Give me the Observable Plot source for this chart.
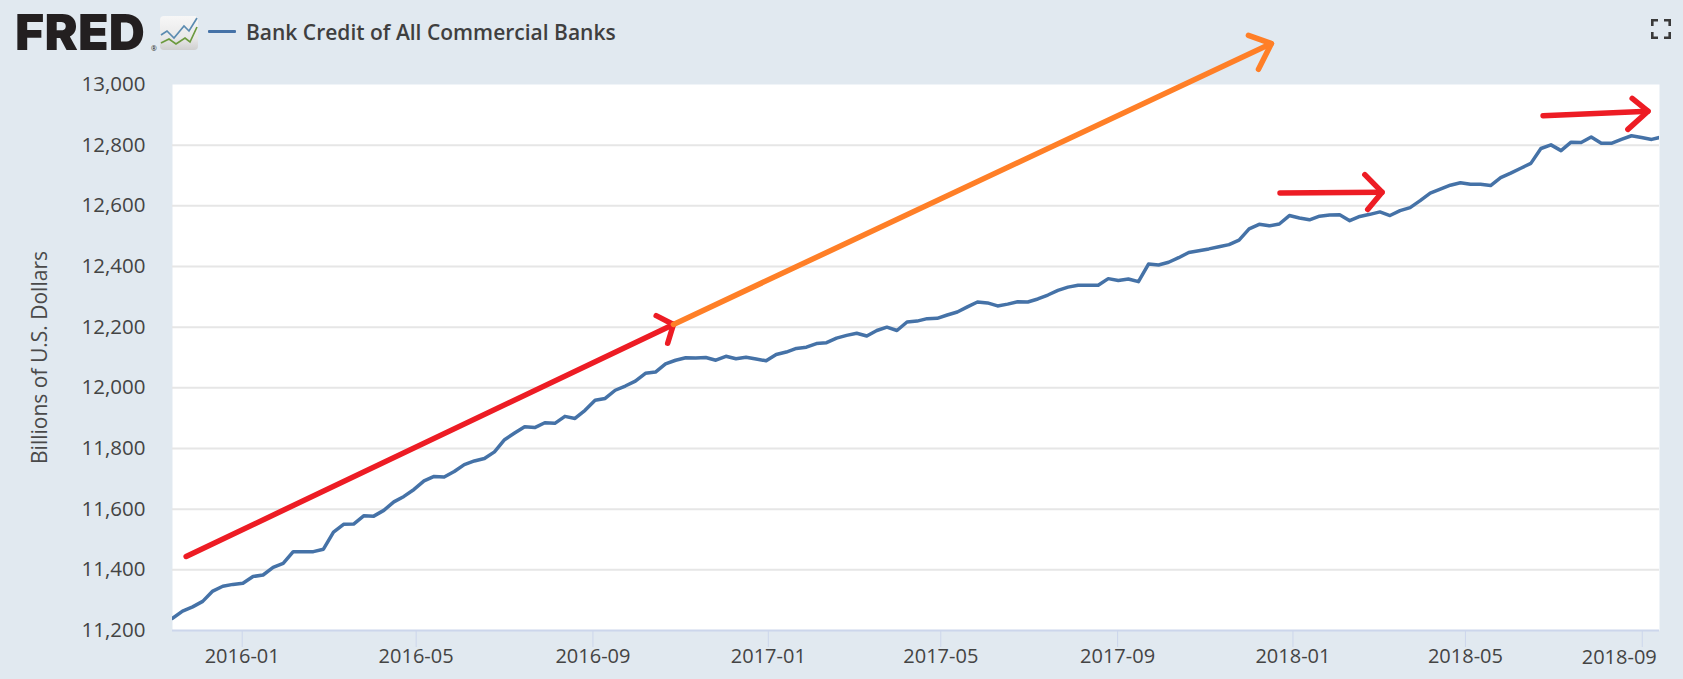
<!DOCTYPE html>
<html>
<head>
<meta charset="utf-8">
<script src="https://cdn.jsdelivr.net/npm/d3@7"></script>
<script src="https://cdn.jsdelivr.net/npm/@observablehq/plot@0.6"></script>
<style>
html,body{margin:0;padding:0;background:#e1e9f0;}
body{position:relative;width:1683px;height:679px;overflow:hidden;font-family:"Open Sans",sans-serif;}
#chart{position:absolute;left:0;top:0;}
#logo{position:absolute;left:15px;top:2px;font:900 50px Inter,sans-serif;letter-spacing:0.2px;color:#231f20;line-height:60px;}
#reg{position:absolute;left:151px;top:44px;font:7px "Open Sans",sans-serif;color:#231f20;}
#icon{position:absolute;left:160px;top:16px;}
#swatch{position:absolute;left:208px;top:30px;width:28px;height:3px;background:#4572a7;border-radius:1px;}
#legend{position:absolute;left:246px;top:17px;font:600 21px "Open Sans",sans-serif;color:#3f3f3f;line-height:30px;white-space:nowrap;}
#full{position:absolute;left:1651px;top:19px;}
</style>
</head>
<body>
<div id="chart"></div>
<div id="logo">FRED</div>
<div id="reg">®</div>
<svg id="icon" width="39" height="34" viewBox="0 0 39 34">
  <defs><linearGradient id="g" x1="0" y1="0" x2="0" y2="1"><stop offset="0" stop-color="#f7f7f7"/><stop offset="0.65" stop-color="#e8e8e8"/><stop offset="1" stop-color="#cfcfcf"/></linearGradient></defs>
  <rect x="0" y="0" width="38" height="34" rx="4" fill="url(#g)"/>
  <polyline points="1,19 7,15 14,22 24,10 29,15 37,2" fill="none" stroke="#5b8bb0" stroke-width="1.7"/>
  <polyline points="1,27 9,23 16,28 25,22 30,26 37,11" fill="none" stroke="#6c9a3e" stroke-width="1.7"/>
</svg>
<div id="swatch"></div>
<div id="legend">Bank Credit of All Commercial Banks</div>
<svg id="full" width="20" height="20" viewBox="0 0 20 20" fill="none" stroke="#3a3a3a" stroke-width="2.6">
  <path d="M1.3 7V1.3H7M13 1.3H18.7V7M1.3 13V18.7H7M13 18.7H18.7V13"/>
</svg>
<script>
const startDate = "2015-11-13T12:00Z";
const endDate = "2018-09-13T00:00Z";
const bankCredit = [
11240,11264,11278,11296,11330,11346,11352,11356,11378,11383,11408,11421,11460,11460,11460,11468,
11524,11550,11551,11578,11577,11596,11624,11642,11665,11693,11708,11706,11724,11747,11759,
11767,11789,11829,11851,11872,11869,11885,11883,11906,11899,11926,11959,11965,11992,12006,12022,
12048,12052,12079,12091,12099,12098,12100,12091,12104,12096,12101,12095,12089,12110,
12118,12130,12134,12146,12149,12164,12173,12180,12171,12189,12200,12189,12217,12220,12228,12229,
12240,12250,12267,12283,12280,12270,12276,12284,12283,12293,12306,12321,12332,
12338,12338,12338,12360,12354,12359,12350,12408,12405,12414,12429,12446,12452,12458,12465,12472,
12487,12524,12539,12534,12540,12568,12560,12554,12566,12570,12571,12551,12565,12572,
12580,12568,12584,12594,12617,12642,12655,12668,12676,12671,12671,12667,12693,12708,12724,12740,
12789,12801,12782,12810,12809,12827,12806,12806,12819,12831,12825,12819,12827
];
const yTicks = [11200,11400,11600,11800,12000,12200,12400,12600,12800,13000];
const gridValues = [11400,11600,11800,12000,12200,12400,12600,12800];
const xTickLabels = ["2016-01","2016-05","2016-09","2017-01","2017-05","2017-09","2018-01","2018-05","2018-09"];
const arrowIds = ["a","a","b","b","b","c","c","d","d","d","e","e","f","f","f","g","g","h","h","h"];
const arrowColors = ["r","r","r","r","r","o","o","o","o","o","r","r","r","r","r","r","r","r","r","r"];
const arrowDates = ["2015-11-23","2016-10-27","2016-10-15","2016-10-27","2016-10-23",
  "2016-10-27","2017-12-17","2017-12-01","2017-12-17","2017-12-08",
  "2017-12-23","2018-03-04","2018-02-20","2018-03-04","2018-02-22",
  "2018-06-24","2018-09-05","2018-08-25","2018-09-05","2018-08-22"];
const arrowValues = [11444,12209,12238,12209,12147,
  12209,13135,13162,13135,13050,
  12642,12645,12703,12645,12588,
  12897,12912,12954,12912,12852];

const parse = s => new Date(s);
const start = parse(startDate);
const credit = bankCredit.map((v,i) => ({date: d3.utcDay.offset(start, 7*i), value: v}));
const tickDates = xTickLabels.map(s => parse(s + "-01T00:00Z"));
const fmt = d3.utcFormat("%Y-%m");
const lastTick = tickDates[tickDates.length-1];
const arrows = arrowDates.map((d,i) => ({date: parse(d+"T00:00Z"), value: arrowValues[i], id: arrowIds[i], c: arrowColors[i]}));
const arrowMark = (c,w) => Plot.line(arrows.filter(d => d.c===c), {x:"date", y:"value", z:"id", stroke: c==="r" ? "#ed1c24" : "#ff7f27", strokeWidth:w, strokeLinecap:"round", strokeLinejoin:"round"});

const fig = Plot.plot({
  width:1683, height:679,
  marginTop:84, marginBottom:49, marginLeft:172, marginRight:24,
  style:{background:"transparent", fontFamily:"'Open Sans',sans-serif", overflow:"visible"},
  x:{type:"utc", domain:[start, parse(endDate)]},
  y:{domain:[11200,13000]},
  marks:[
    Plot.frame({fill:"#fff", stroke:null}),
    Plot.ruleY(gridValues, {stroke:"#e6e6e6", strokeWidth:2}),
    Plot.ruleY([11200], {stroke:"#ccd6eb", strokeWidth:2}),
    Plot.axisY({ticks:yTicks, tickSize:0, tickPadding:27, tickFormat:d3.format(","), fontSize:20.5, color:"#444", label:null}),
    Plot.axisY({ticks:[], tickSize:0, fontSize:21, color:"#4a4a4a",
      label:"Billions of U.S. Dollars", labelAnchor:"center", labelArrow:"none", labelOffset:140}),
    Plot.axisX({ticks:tickDates, tickSize:17, tickPadding:1, stroke:"#ccd6eb", fill:"#444", fontSize:20,
      tickFormat:d => +d === +lastTick ? "" : fmt(d), label:null}),
    Plot.text([lastTick], {x:d=>d, frameAnchor:"bottom", dy:33, dx:-23, text:d=>fmt(d), fontSize:20, fill:"#444"}),
    Plot.line(credit, {x:"date", y:"value", stroke:"#4572a7", strokeWidth:3.5, clip:"frame", strokeLinejoin:"round"}),
    arrowMark("r",5.5),
    arrowMark("o",5.5)
  ]
});
document.getElementById("chart").appendChild(fig);
</script>
</body>
</html>
